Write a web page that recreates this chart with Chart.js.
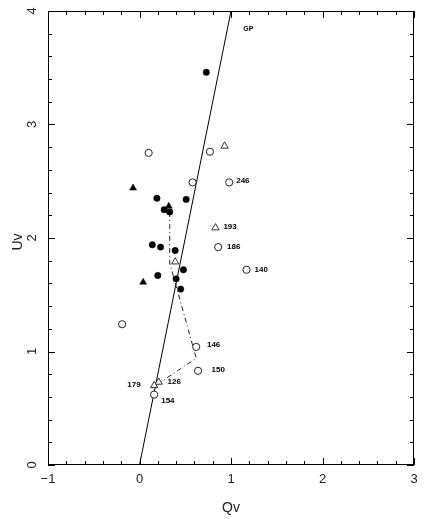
<!DOCTYPE html>
<html>
<head>
<meta charset="utf-8">
<script src="https://cdn.jsdelivr.net/npm/chart.js@4/dist/chart.umd.min.js"></script>
<style>
  body { margin: 0; background: #fff; }
  #wrap { width: 426px; height: 519px; }
</style>
</head>
<body>
<div id="wrap"><canvas id="qu" width="426" height="519"></canvas></div>
<script>
// values (Qv, Uv)
const filledCircleQ = [0.73, 0.19, 0.51, 0.27, 0.33, 0.14, 0.23, 0.39, 0.48, 0.20, 0.40, 0.45];
const filledCircleU = [3.46, 2.35, 2.34, 2.25, 2.23, 1.94, 1.92, 1.89, 1.72, 1.67, 1.64, 1.55];
const filledTriQ = [-0.07, 0.32, 0.04];
const filledTriU = [2.44, 2.28, 1.61];
const openCircleQ = [0.10, 0.77, 0.58, 0.98, 0.86, 1.17, -0.19, 0.62, 0.64, 0.16];
const openCircleU = [2.75, 2.76, 2.49, 2.49, 1.92, 1.72, 1.24, 1.04, 0.83, 0.62];
const openTriQ = [0.93, 0.83, 0.39, 0.21, 0.16];
const openTriU = [2.81, 2.09, 1.79, 0.73, 0.70];

// GP line and the dash-dot track
const gpQ = [0, 1];
const gpU = [0, 4];
const trackQ = [0.33, 0.33, 0.62, 0.23];
const trackU = [2.23, 1.78, 0.94, 0.73];

// star labels
const starNames = ['246', '193', '186', '140', '146', '150', '126', '179', '154'];
const starLabelQ = [1.13, 0.99, 1.03, 1.33, 0.81, 0.86, 0.38, -0.06, 0.31];
const starLabelU = [2.50, 2.10, 1.92, 1.72, 1.06, 0.84, 0.73, 0.71, 0.57];

const xTicks = [-1, 0, 1, 2, 3];
const yTicks = [0, 1, 2, 3, 4];
const minorStep = 0.2;

const toPts = (xs, ys) => xs.map((x, i) => ({ x: x, y: ys[i] }));

const ink = '#000';
const font = "'Liberation Sans', 'DejaVu Sans', sans-serif";

// frame, inside ticks, tick labels and titles
const framePlugin = {
    id: 'frame',
    afterDatasetsDraw(chart) {
        const ctx = chart.ctx;
        const a = chart.chartArea;
        const sx = chart.scales.x;
        const sy = chart.scales.y;
        ctx.save();
        ctx.strokeStyle = ink;
        ctx.lineWidth = 1;
        ctx.strokeRect(a.left + 0.5, a.top + 0.5, a.right - a.left - 1, a.bottom - a.top - 1);

        ctx.beginPath();
        for (let v = sx.min; v <= sx.max + 1e-6; v += minorStep) {
            const major = Math.abs(v - Math.round(v)) < 1e-6;
            const len = major ? 7 : 4;
            const px = Math.round(sx.getPixelForValue(v)) + 0.5;
            ctx.moveTo(px, a.bottom); ctx.lineTo(px, a.bottom - len);
            ctx.moveTo(px, a.top); ctx.lineTo(px, a.top + len);
        }
        for (let v = sy.min; v <= sy.max + 1e-6; v += minorStep) {
            const major = Math.abs(v - Math.round(v)) < 1e-6;
            const len = major ? 7 : 4;
            const py = Math.round(sy.getPixelForValue(v)) + 0.5;
            ctx.moveTo(a.left, py); ctx.lineTo(a.left + len, py);
            ctx.moveTo(a.right, py); ctx.lineTo(a.right - len, py);
        }
        ctx.stroke();

        ctx.fillStyle = '#222';
        ctx.font = '13px ' + font;
        ctx.textAlign = 'center';
        ctx.textBaseline = 'middle';
        xTicks.forEach(v => {
            const lbl = v < 0 ? '\u2212' + Math.abs(v) : String(v);
            ctx.fillText(lbl, sx.getPixelForValue(v), a.bottom + 14);
        });
        yTicks.forEach(v => {
            ctx.save();
            ctx.translate(a.left - 16, sy.getPixelForValue(v));
            ctx.rotate(-Math.PI / 2);
            ctx.fillText(String(v), 0, 0);
            ctx.restore();
        });

        ctx.font = '14px ' + font;
        ctx.fillText('Qv', (a.left + a.right) / 2, a.bottom + 43);
        ctx.save();
        ctx.translate(a.left - 30, (a.top + a.bottom) / 2 + 4);
        ctx.rotate(-Math.PI / 2);
        ctx.fillText('Uv', 0, 0);
        ctx.restore();

        ctx.fillStyle = ink;
        ctx.font = 'bold 8px ' + font;
        starNames.forEach((n, i) => {
            ctx.fillText(n, sx.getPixelForValue(starLabelQ[i]), sy.getPixelForValue(starLabelU[i]));
        });
        ctx.font = 'bold 7px ' + font;
        ctx.fillText('GP', sx.getPixelForValue(1.19), sy.getPixelForValue(3.84));
        ctx.restore();
    }
};

new Chart(document.querySelector('#qu'), {
    type: 'scatter',
    data: {
        datasets: [
            {
                type: 'line', data: toPts(gpQ, gpU), borderColor: ink, borderWidth: 1,
                pointRadius: 0, fill: false, order: 6
            },
            {
                type: 'line', data: toPts(trackQ, trackU), borderColor: '#222', borderWidth: 1,
                borderDash: [5, 3, 1, 3], pointRadius: 0, fill: false, order: 5
            },
            {
                data: toPts(filledTriQ, filledTriU), pointStyle: 'triangle', pointRadius: 4,
                backgroundColor: ink, borderColor: ink, borderWidth: 0.5, order: 4
            },
            {
                data: toPts(openTriQ, openTriU), pointStyle: 'triangle', pointRadius: 4.2,
                backgroundColor: '#fff', borderColor: '#333', borderWidth: 1, order: 3
            },
            {
                data: toPts(openCircleQ, openCircleU), pointStyle: 'circle', pointRadius: 3.6,
                backgroundColor: '#fff', borderColor: '#222', borderWidth: 1, order: 2
            },
            {
                data: toPts(filledCircleQ, filledCircleU), pointStyle: 'circle', pointRadius: 3.2,
                backgroundColor: ink, borderColor: ink, borderWidth: 0.5, order: 1
            }
        ]
    },
    options: {
        responsive: false,
        animation: false,
        layout: { padding: { left: 48, right: 12, top: 11, bottom: 54 } },
        plugins: { legend: { display: false }, tooltip: { enabled: false } },
        scales: {
            x: { type: 'linear', min: -1, max: 3, display: false },
            y: { type: 'linear', min: 0, max: 4, display: false }
        }
    },
    plugins: [framePlugin]
});
</script>
</body>
</html>
